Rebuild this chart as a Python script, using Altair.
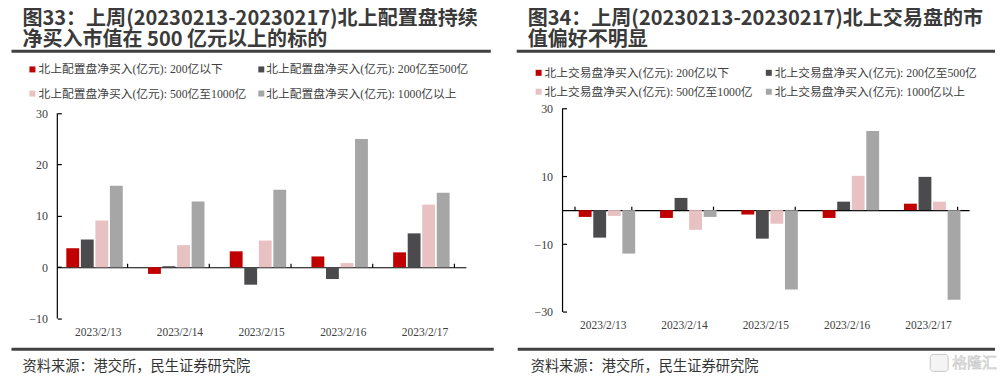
import altair as alt
import pandas as pd

dates = ["2023/2/13", "2023/2/14", "2023/2/15", "2023/2/16", "2023/2/17"]

left_series = [
    "北上配置盘净买入(亿元): 200亿以下",
    "北上配置盘净买入(亿元): 200亿至500亿",
    "北上配置盘净买入(亿元): 500亿至1000亿",
    "北上配置盘净买入(亿元): 1000亿以上",
]
right_series = [
    "北上交易盘净买入(亿元): 200亿以下",
    "北上交易盘净买入(亿元): 200亿至500亿",
    "北上交易盘净买入(亿元): 500亿至1000亿",
    "北上交易盘净买入(亿元): 1000亿以上",
]

left_small = [3.7, -1.3, 3.1, 2.1, 2.9]
left_mid = [5.4, 0.2, -3.4, -2.3, 6.6]
left_large = [9.1, 4.3, 5.2, 0.8, 12.2]
left_huge = [15.9, 12.8, 15.1, 25.0, 14.5]

right_small = [-2.0, -2.3, -1.3, -2.3, 1.9]
right_mid = [-8.1, 3.6, -8.4, 2.5, 9.8]
right_large = [-1.7, -5.8, -4.0, 10.1, 2.5]
right_huge = [-12.8, -2.0, -23.4, 23.3, -26.4]

left_ticks = [-10, 0, 10, 20, 30]
right_ticks = [-30, -10, 10, 30]

left_title = ["图33：上周(20230213-20230217)北上配置盘持续", "净买入市值在 500 亿元以上的标的"]
right_title = ["图34：上周(20230213-20230217)北上交易盘的市", "值偏好不明显"]
source = "资料来源：港交所，民生证券研究院"
watermark = "格隆汇"

colors = ["#C00000", "#4B4B4D", "#E8C1C2", "#A6A6A6"]

SERIF = "Liberation Serif, Noto Sans CJK SC"
SANS = "Noto Sans CJK SC"
TXT = "#404040"

one = pd.DataFrame({"k": [0]})


def text(t, x, y, size, font, color=TXT, weight="normal"):
    return alt.Chart(one).mark_text(
        text=t, align="left", baseline="middle", fontSize=size, font=font,
        fontWeight=weight, color=color,
    ).encode(x=alt.value(x), y=alt.value(y))


def hline(x1, x2, y, w=3, color="#404040"):
    return alt.Chart(one).mark_rule(strokeWidth=w, color=color).encode(
        x=alt.value(x1), x2=alt.value(x2), y=alt.value(y)
    )


def square(x, y, color):
    return alt.Chart(one).mark_square(size=36, color=color, opacity=1).encode(
        x=alt.value(x), y=alt.value(y)
    )


def panel(series, vals, domain, ticks, axis_span, width, height, zero_off,
          titles, leg, foot_x, title_line, extra=()):
    rows = []
    for s, v in zip(series, vals):
        for d, val in zip(dates, v):
            rows.append({"date": d, "series": s, "value": val})
    df = pd.DataFrame(rows)

    yscale = alt.Scale(domain=domain, nice=False, zero=False)
    xscale = alt.Scale(paddingInner=0.3, paddingOuter=0.15)

    bars = alt.Chart(df).mark_bar(width=12.9).encode(
        x=alt.X("date:N", sort=dates, scale=xscale,
                axis=alt.Axis(title=None, orient="bottom", domain=False, ticks=False,
                              labelAngle=0, labelFont=SERIF, labelFontSize=11.5,
                              labelColor=TXT, labelPadding=8, grid=False)),
        y=alt.Y("value:Q", scale=yscale,
                axis=alt.Axis(title=None, orient="left", values=ticks, domain=False,
                              ticks=False, grid=False, labelPadding=10,
                              labelFont=SERIF, labelFontSize=12, labelColor=TXT)),
        y2=alt.datum(0),
        xOffset=alt.XOffset("series:N", sort=series,
                            scale=alt.Scale(paddingInner=0.13, paddingOuter=0)),
        color=alt.Color("series:N", sort=series,
                        scale=alt.Scale(domain=series, range=colors), legend=None),
    )

    # zero line with upward ticks at the category boundaries, inward y ticks
    zero_axis = alt.Chart(df).mark_bar(opacity=0).encode(
        x=alt.X("date:N", sort=dates,
                axis=alt.Axis(title=None, orient="top", offset=-zero_off, labels=False,
                              domain=True, domainColor="black", domainWidth=1.2,
                              ticks=True, tickBand="extent", tickSize=4,
                              tickColor="black", tickWidth=1.2, grid=False)),
        y=alt.Y("value:Q",
                axis=alt.Axis(title=None, orient="right", offset=-width, labels=False,
                              domain=False, ticks=True, tickSize=4, values=ticks,
                              tickColor="black", tickWidth=1.2, grid=False)),
    )

    yline = alt.Chart(pd.DataFrame({"a": [axis_span[0]], "b": [axis_span[1]]})).mark_rule(
        color="black", strokeWidth=1.2
    ).encode(x=alt.value(0), y=alt.Y("a:Q", axis=None), y2="b:Q")

    deco = [
        text(titles[0], -35, -89.3, 20.1, SANS, "#3a3a3a", "bold"),
        text(titles[1], -35, -68.8, 20.1, SANS, "#3a3a3a", "bold"),
        hline(title_line[0], title_line[1], -57.3),
        hline(foot_x[0], foot_x[1], 241.7),
        text(source, foot_x[2], 259.7, 14.3, SANS, "#333333"),
    ]
    (c1sq, c1tx, c2sq, c2tx, r1, r2) = leg
    pos = [(c1sq, c1tx, r1), (c2sq, c2tx, r1), (c1sq, c1tx, r2), (c2sq, c2tx, r2)]
    for s, col, (sx, tx, ry) in zip(series, colors, pos):
        deco.append(square(sx, ry, col))
        deco.append(text(s, tx, ry, 11.8, SERIF, TXT))
    deco.extend(extra)

    return alt.layer(bars, zero_axis, yline, *deco).resolve_axis(
        x="independent", y="independent"
    ).properties(width=width, height=height)


left = panel(
    left_series, [left_small, left_mid, left_large, left_huge],
    [-10, 30.97], left_ticks, [-10, 30], 410, 211, 159.5,
    left_title, (-25, -19, 204.7, 209.7, -39, -14.8), (-46, 438, -35), (-46, 435),
)

wm_text = alt.Chart(one).mark_text(
    text=watermark, align="left", baseline="middle", fontSize=15, font=SANS,
    color="#f0f0f0", stroke="#c8c8c8", strokeWidth=0.6,
).encode(x=alt.value(391), y=alt.value(255.7))
wm_icon = alt.Chart(one).mark_rect(
    fill="#f4f4f4", stroke="#c8c8c8", strokeWidth=1, cornerRadius=3
).encode(x=alt.value(369), x2=alt.value(387), y=alt.value(247), y2=alt.value(264))

right = panel(
    right_series, [right_small, right_mid, right_large, right_huge],
    [-30, 30], right_ticks, [-30, 30], 408, 204.4, 102.2,
    right_title, (-24, -18, 207, 213, -35.6, -16.6), (-45, 434, -32), (-46, 434),
    extra=(wm_icon, wm_text),
)

chart = alt.hconcat(left, right, spacing=97, bounds="flush").properties(
    padding={"left": 1.5, "top": 0, "right": 0, "bottom": 0},
    background="white",
).configure_view(stroke="white", strokeWidth=0)

chart.save("out.html", embed_options={"renderer": "svg", "actions": False})
